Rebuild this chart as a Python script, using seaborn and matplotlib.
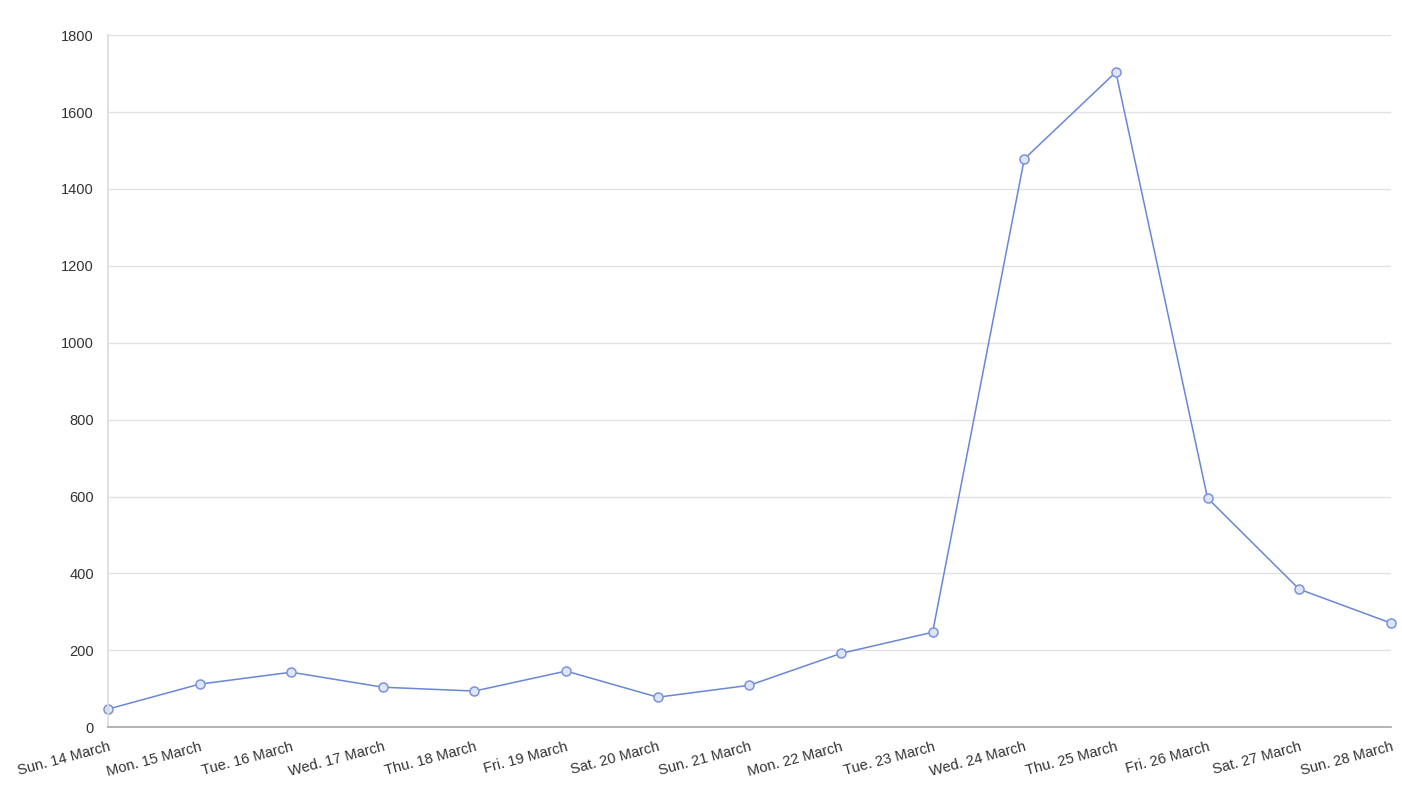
import pandas as pd
import matplotlib
matplotlib.use('Agg')
import matplotlib.pyplot as plt
import seaborn as sns

days = ["Sun. 14 March", "Mon. 15 March", "Tue. 16 March", "Wed. 17 March",
        "Thu. 18 March", "Fri. 19 March", "Sat. 20 March", "Sun. 21 March",
        "Mon. 22 March", "Tue. 23 March", "Wed. 24 March", "Thu. 25 March",
        "Fri. 26 March", "Sat. 27 March", "Sun. 28 March"]
counts = [47, 112, 143, 104, 94, 146, 78, 109, 192, 247, 1478, 1704, 596, 359, 271]
y_ticks = [0, 200, 400, 600, 800, 1000, 1200, 1400, 1600, 1800]

df = pd.DataFrame({"day": days, "count": counts, "pos": range(len(days))})

sns.set_theme(style="white")
plt.rcParams['font.family'] = ['Liberation Sans', 'DejaVu Sans']

fig, ax = plt.subplots(figsize=(14.02, 8), dpi=100)
fig.subplots_adjust(left=0.077, right=0.992, top=0.956, bottom=0.091)

# line + hollow-ish circle markers
sns.lineplot(data=df, x="pos", y="count", ax=ax, color='#6a86d6', lw=1.1,
             marker='o', markersize=6.5, markerfacecolor='#dfe5f6',
             markeredgecolor='#7b93db', markeredgewidth=1.1, clip_on=False)

ax.set_xlim(0, len(days) - 1)
ax.set_ylim(0, 1800)
ax.set_yticks(y_ticks)
ax.set_xticks(df["pos"])
ax.set_xticklabels(days, rotation=15, ha='right', rotation_mode='anchor')
ax.set_xlabel('')
ax.set_ylabel('')

ax.grid(True, axis='y', color='#e2e2e2', lw=1)
ax.set_axisbelow(True)
for side in ['top', 'right']:
    ax.spines[side].set_visible(False)
ax.spines['left'].set_color('#dcdcdc')
ax.spines['bottom'].set_color('#aaaaaa')
ax.tick_params(axis='y', length=7, color='#e2e2e2', labelsize=10.5, labelcolor='#333333', pad=3)
ax.tick_params(axis='x', length=0, labelsize=10.5, labelcolor='#333333', pad=9)

plt.savefig('out.png', dpi=100)
plt.close()
